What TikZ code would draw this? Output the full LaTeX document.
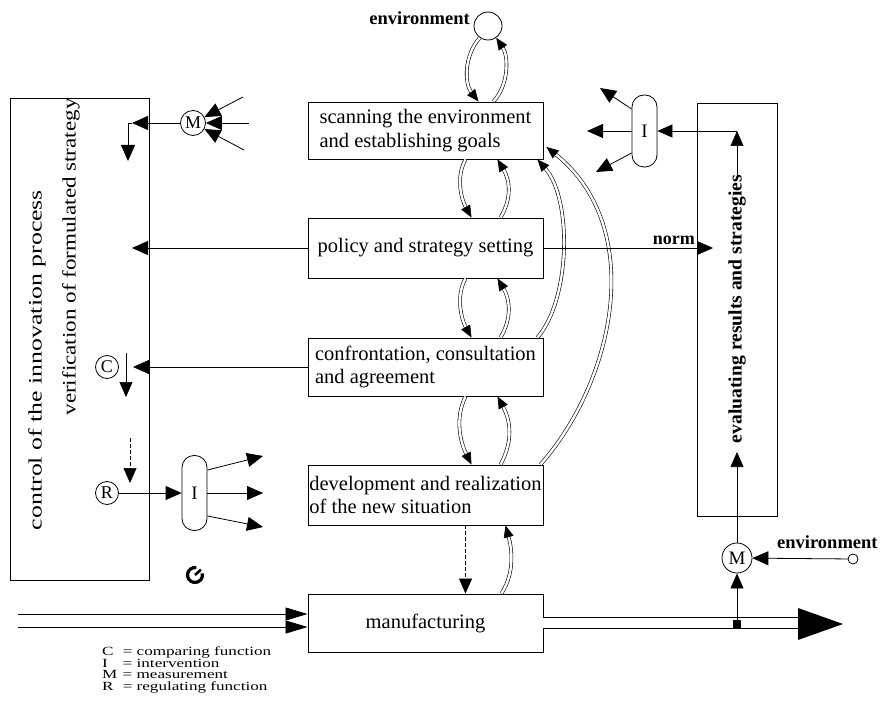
\documentclass[tikz,border=0pt]{standalone}
\usepackage{graphicx}
\usepackage{fontspec}
\setmainfont{Liberation Serif}
\usetikzlibrary{arrows.meta,calc,shapes.geometric}

\tikzset{
 stagebox/.style={draw, line width=0.9pt, minimum width=235pt, align=left, font=\fontsize{20.5}{23.5}\selectfont, inner sep=1pt},
 arr/.style={line width=0.8pt, -{Triangle[length=16pt,width=14pt]}},
 thinarr/.style={line width=0.6pt, -{Triangle[length=15pt,width=13pt]}},
 dbl/.style={double, line width=0.6pt, double distance=2.4pt, -{Triangle[length=12pt,width=10pt]}},
 circ/.style={circle, draw, line width=0.8pt, inner sep=0pt, font=\fontsize{18}{18}\selectfont},
 inode/.style={draw, rounded corners=12pt, minimum width=25pt, minimum height=73pt, inner sep=0pt, line width=0.8pt, font=\fontsize{19}{19}\selectfont},
 lbl/.style={font=\fontsize{18.5}{18.5}\selectfont\bfseries, inner sep=0pt},
 frame/.style={draw, line width=0.9pt, inner sep=0pt},
 vtext/.style={rotate=90, inner sep=0pt, font=\fontsize{19}{19}\selectfont},
 legend/.style={anchor=base west, inner sep=0pt, font=\fontsize{12.5}{12.5}\selectfont},
}

\begin{document}
\begin{tikzpicture}[x=1pt,y=-1pt]
\useasboundingbox (0,0) rectangle (883,711);

% main stages
\node[stagebox, minimum height=57pt] (scan) at (425.5,130.5) {scanning the environment\\and establishing goals};
\node[stagebox, minimum height=60pt] (pol) at (425.5,248) {policy and strategy setting};
\node[stagebox, minimum height=58pt] (conf) at (425.5,367) {confrontation, consultation\\and agreement};
\node[stagebox, minimum height=60pt] (dev) at (425.5,495) {development and realization\\of the new situation};
\node[stagebox, minimum height=58pt] (mfg) at (425.5,623) {manufacturing};

% environment (top)
\node[circ, minimum size=28pt] (env) at (488,26) {};
\node[lbl, anchor=base east] (envl) at (470,25) {environment};

% left frame and texts
\node[frame, minimum width=139pt, minimum height=482pt] (ctrl) at (79.5,339) {};
\node[vtext] (ctrltxt) at (37,360) {\resizebox{340pt}{\height}{control of the innovation process}};
\node[vtext] (vertxt) at (71,257) {\resizebox{317pt}{\height}{verification of formulated strategy}};

% right frame and text
\node[frame, minimum width=80pt, minimum height=413pt] (eval) at (737,309.5) {};
\node[vtext, font=\fontsize{19}{19}\selectfont\bfseries] (evaltxt) at (737,309) {\resizebox{268pt}{\height}{evaluating results and strategies}};

% double-line loops between stages
\draw[dbl] ($(env.235)$) .. controls +(-16,18) and +(-14,-18) .. ($(scan.north)+(53,0)$);
\draw[dbl] ($(scan.north)+(68,0)$) .. controls +(16,-18) and +(12,18) .. ($(env.305)$);

\draw[dbl] ($(scan.south)+(40,0)$) .. controls +(-10,18) and +(-10,-18) .. ($(pol.north)+(46,0)$);
\draw[dbl] ($(pol.north)+(75,0)$) .. controls +(12,-20) and +(12,20) .. ($(scan.south)+(72,0)$);

\draw[dbl] ($(pol.south)+(40,0)$) .. controls +(-10,18) and +(-10,-18) .. ($(conf.north)+(46,0)$);
\draw[dbl] ($(conf.north)+(75,0)$) .. controls +(12,-20) and +(12,20) .. ($(pol.south)+(72,0)$);

\draw[dbl] ($(conf.south)+(40,0)$) .. controls +(-11,22) and +(-11,-22) .. ($(dev.north)+(46,0)$);
\draw[dbl] ($(dev.north)+(75,0)$) .. controls +(13,-24) and +(13,24) .. ($(conf.south)+(72,0)$);

\draw[thinarr, dash pattern=on 4pt off 2pt] ($(dev.south)+(40,0)$) -- ($(mfg.north)+(40,0)$);
\draw[dbl] ($(mfg.north)+(76,0)$) .. controls +(14,-22) and +(6,22) .. ($(dev.south)+(80,0)$);

% long feedback curves
\draw[dbl] ($(conf.north east)+(-6,0)$) .. controls +(33,-38) and +(35,40) .. ($(scan.south east)+(-6,0)$);
\draw[dbl] ($(dev.north east)+(-3,0)$) .. controls +(75,-85) and +(100,80) .. ($(scan.east)+(3,16.5)$);

% arrows to the left frame
\coordinate (ptip) at (132,248);
\draw[arr] (pol) -- (ptip);
\coordinate (ctip) at (133,367);
\draw[arr] (conf) -- (ctip);

% M (left top)
\node[circ, minimum size=25pt] (M1) at (193,123) {M};
\coordinate (m1tip) at (132,123);
\coordinate (m1b) at (128,161);
\draw[arr] (M1) -- (m1tip);
\draw[arr] (m1tip) -| (m1b);
\coordinate (m1i1) at (243,97);
\coordinate (m1i2) at (249,123);
\coordinate (m1i3) at (244,150);
\draw[arr] (m1i1) -- (M1);
\draw[arr] (m1i2) -- (M1);
\draw[arr] (m1i3) -- (M1);

% C
\node[circ, minimum size=23pt] (C) at (107,367) {C};
\coordinate (c1) at (126,353);
\coordinate (c2) at (126,397);
\draw[thinarr] (c1) -- (c2);

% R and I (left bottom)
\node[circ, minimum size=23pt] (R) at (107,493) {R};
\coordinate (r1) at (130,438);
\coordinate (r2) at (130,483);
\draw[thinarr, dash pattern=on 4pt off 2pt] (r1) -- (r2);
\node[inode, minimum height=75pt] (I2) at (194.5,493) {I};
\draw[arr] (R) -- (I2);
\coordinate (i2o1) at (263,456);
\coordinate (i2o2) at (263,493);
\coordinate (i2o3) at (263,527);
\draw[arr] ($(I2.east)+(0,-23)$) -- (i2o1);
\draw[arr] (I2) -- (i2o2);
\draw[arr] ($(I2.east)+(0,23)$) -- (i2o3);

% rotation glyph
\coordinate (gly) at (195,575);
\draw[line width=3.2pt] (gly) ++(-80:7.5) arc[start angle=-80, end angle=-372, radius=7.5];
\draw[line width=2.6pt] (gly) -- ++(-42:8);

% I (right top)
\node[inode, minimum height=72pt] (I1) at (644.5,131) {I};
\coordinate (i1o1) at (600,88);
\coordinate (i1o2) at (587,131);
\coordinate (i1o3) at (596,172);
\draw[arr] ($(I1.west)+(0,-22)$) -- (i1o1);
\draw[arr] (I1) -- (i1o2);
\draw[arr] ($(I1.west)+(0,22)$) -- (i1o3);

% norm
\coordinate (normtip) at (713,248);
\draw[arr] (pol) -- (normtip);
\node[lbl, font=\fontsize{18}{18}\selectfont\bfseries, anchor=base east] (norm) at (695,245) {norm};

% right M and evaluation loop
\node[circ, minimum size=30pt, font=\fontsize{19}{19}\selectfont] (M2) at (737,558) {M};
\coordinate (evtipA) at (737,452);
\coordinate (evB0) at (737,176);
\coordinate (evcorner) at (737,131);
\draw[thinarr] (M2) -- (evtipA);
\draw[thinarr] (evB0) -- (evcorner);
\draw[thinarr] (evcorner) -- (I1);

\node[circle, draw, line width=0.8pt, minimum size=10pt, inner sep=0pt] (envs) at (853,559) {};
\draw[arr] (envs) -- (M2);
\node[lbl, anchor=base west] (envr) at (777,548) {environment};

% production flow
\coordinate (in1) at (18,614);
\coordinate (in2) at (18,627);
\draw[line width=0.8pt, -{Triangle[length=22pt,width=13pt]}] (in1) -- (in1 -| mfg.west);
\draw[line width=0.8pt, -{Triangle[length=22pt,width=13pt]}] (in2) -- (in2 -| mfg.west);
\coordinate (shE) at (820,623);
\draw[line width=0.8pt, double, double distance=10pt] (mfg) -- (shE);
\fill ($(shE)+(-22,-15)$) -- ($(shE)+(23,1)$) -- ($(shE)+(-22,17)$) -- cycle;
\node[fill, minimum size=8pt, inner sep=0pt] (jn) at (737,624) {};
\draw[thinarr] (jn) -- (M2);

% legend
\node[legend] (lgC) at (102,655.5) {\scalebox{1.37}[1]{\makebox[15pt][l]{C}= comparing function}};
\node[legend] (lgI) at (102,667) {\scalebox{1.37}[1]{\makebox[15pt][l]{I}= intervention}};
\node[legend] (lgM) at (102,678.5) {\scalebox{1.37}[1]{\makebox[15pt][l]{M}= measurement}};
\node[legend] (lgR) at (102,690) {\scalebox{1.37}[1]{\makebox[15pt][l]{R}= regulating function}};
\end{tikzpicture}
\end{document}
